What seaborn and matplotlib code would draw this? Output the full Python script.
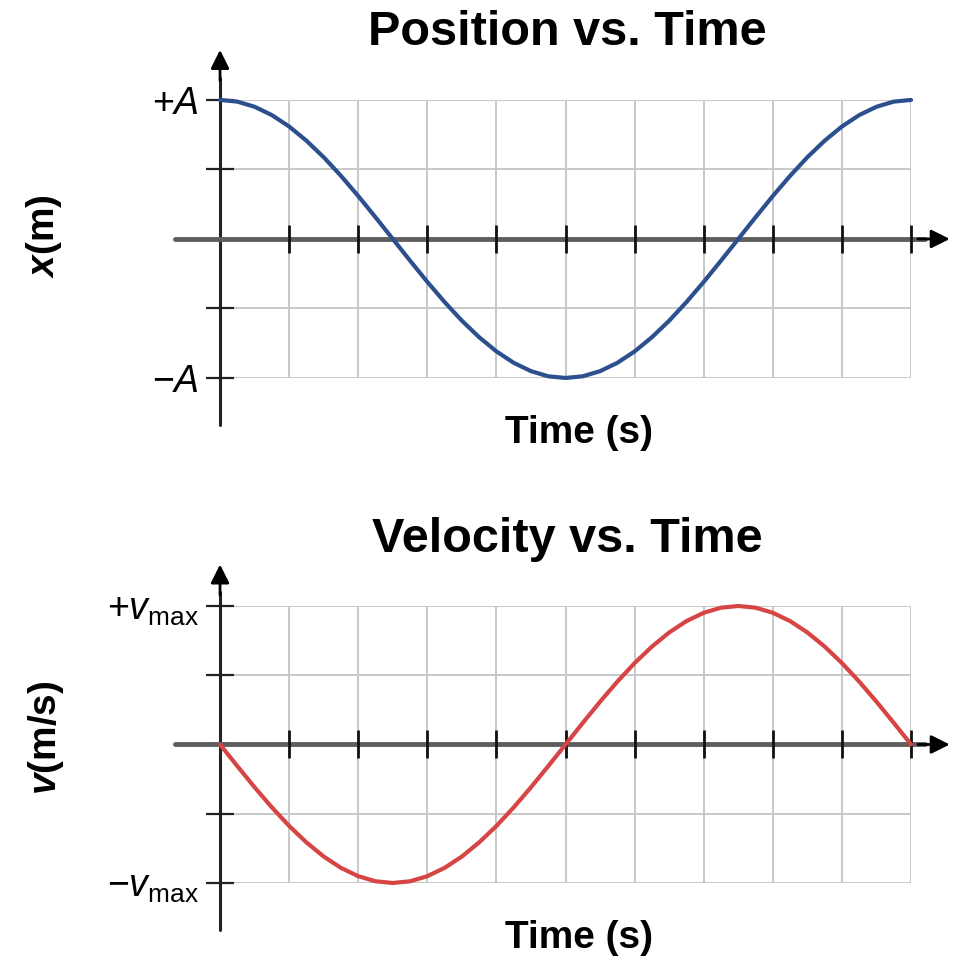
import matplotlib
matplotlib.use("Agg")
import matplotlib.pyplot as plt
import numpy as np
import pandas as pd
import seaborn as sns

# ── Datos (unidades de la cuadrícula) ─────────────────────────────────────────
tiempo = [0.0, 0.25, 0.5, 0.75, 1.0, 1.25, 1.5, 1.75, 2.0, 2.25,
          2.5, 2.75, 3.0, 3.25, 3.5, 3.75, 4.0, 4.25, 4.5, 4.75,
          5.0, 5.25, 5.5, 5.75, 6.0, 6.25, 6.5, 6.75, 7.0, 7.25,
          7.5, 7.75, 8.0, 8.25, 8.5, 8.75, 9.0, 9.25, 9.5, 9.75, 10.0]

posicion = [1.000, 0.988, 0.951, 0.891, 0.809, 0.707, 0.588, 0.454, 0.309, 0.156,
            0.000, -0.156, -0.309, -0.454, -0.588, -0.707, -0.809, -0.891, -0.951, -0.988,
            -1.000, -0.988, -0.951, -0.891, -0.809, -0.707, -0.588, -0.454, -0.309, -0.156,
            0.000, 0.156, 0.309, 0.454, 0.588, 0.707, 0.809, 0.891, 0.951, 0.988, 1.000]

velocidad = [0.000, -0.156, -0.309, -0.454, -0.588, -0.707, -0.809, -0.891, -0.951, -0.988,
             -1.000, -0.988, -0.951, -0.891, -0.809, -0.707, -0.588, -0.454, -0.309, -0.156,
             0.000, 0.156, 0.309, 0.454, 0.588, 0.707, 0.809, 0.891, 0.951, 0.988,
             1.000, 0.988, 0.951, 0.891, 0.809, 0.707, 0.588, 0.454, 0.309, 0.156, 0.000]

xticks = [0, 1, 2, 3, 4, 5, 6, 7, 8, 9, 10]
yticks = [-1, -0.5, 0, 0.5, 1]
etiquetas_pos = [r'$-A$', '', '', '', r'$+A$']
etiquetas_vel = [r'$-v_{\mathrm{max}}$', '', '', '', r'$+v_{\mathrm{max}}$']

df = pd.DataFrame({'tiempo': tiempo, 'posicion': posicion, 'velocidad': velocidad})

# ── Estilo ────────────────────────────────────────────────────────────────────
sns.set_style('white')
plt.rcParams['font.family'] = ['Liberation Sans', 'DejaVu Sans']
plt.rcParams['text.color'] = 'black'
plt.rcParams['ytick.color'] = '#222222'
plt.rcParams['ytick.labelcolor'] = 'black'
plt.rcParams['mathtext.fontset'] = 'custom'
plt.rcParams['mathtext.rm'] = 'Liberation Sans'
plt.rcParams['mathtext.it'] = 'Liberation Sans:italic'
plt.rcParams['mathtext.bf'] = 'Liberation Sans:bold'
plt.rcParams['mathtext.bfit'] = 'Liberation Sans:italic:bold'

fig = plt.figure(figsize=(9.6, 9.61), dpi=100)
ax1 = fig.add_axes([0.2292, 0.6067, 0.7198, 0.2893])
ax2 = fig.add_axes([0.2292, 0.0812, 0.7198, 0.2882])


def preparar_eje(ax, etiquetas, y_min, y_max):
    ax.set_xlim(0, 10)
    ax.set_ylim(-1, 1)
    ax.set_xticks(xticks)
    ax.set_yticks(yticks)
    ax.set_xticklabels([])
    ax.set_yticklabels(etiquetas, fontsize=27)
    ax.grid(True, color='#c8c8c8', lw=1.4)
    for s in ax.spines.values():
        s.set_visible(False)
    ax.tick_params(axis='x', length=0)
    ax.tick_params(axis='y', left=True, direction='inout', length=20,
                   width=1.6, color='#222222', pad=5)
    # eje vertical con flecha
    ax.plot([0, 0], [y_min, y_max - 0.2], color='#222222', lw=2.2,
            clip_on=False, zorder=4)
    ax.annotate('', xy=(0, y_max), xytext=(0, y_max - 0.22),
                arrowprops=dict(arrowstyle='-|>', color='black', lw=2,
                                mutation_scale=28, shrinkA=0, shrinkB=0),
                annotation_clip=False, zorder=5)
    # eje horizontal con flecha
    ax.plot([-0.65, 10.2], [0, 0], color='#5e5e5e', lw=3.5,
            clip_on=False, zorder=4)
    ax.annotate('', xy=(10.56, 0), xytext=(10.1, 0),
                arrowprops=dict(arrowstyle='-|>', color='black', lw=2,
                                mutation_scale=28, shrinkA=0, shrinkB=0),
                annotation_clip=False, zorder=5)
    ax.plot(xticks[1:], [0] * 10, ls='none', marker='|', ms=20, mew=2,
            color='#111111', clip_on=False, zorder=5)


preparar_eje(ax1, etiquetas_pos, -1.34, 1.36)
preparar_eje(ax2, etiquetas_vel, -1.34, 1.30)

sns.lineplot(data=df, x='tiempo', y='posicion', color='#2c4f8e', lw=3,
             ax=ax1, zorder=6, clip_on=False)
sns.lineplot(data=df, x='tiempo', y='velocidad', color='#d64444', lw=3,
             ax=ax2, zorder=6, clip_on=False)
for ax in (ax1, ax2):
    ax.set_xlabel('')
    ax.set_ylabel('')

# ── Textos ────────────────────────────────────────────────────────────────────
fig.text(0.5906, 1 - 45 / 961, 'Position vs. Time', ha='center', va='baseline',
         fontsize=35, fontweight='bold')
fig.text(0.6036, 1 - 443 / 961, 'Time (s)', ha='center', va='baseline',
         fontsize=28, fontweight='bold')
fig.text(0.5906, 1 - 552 / 961, 'Velocity vs. Time', ha='center', va='baseline',
         fontsize=35, fontweight='bold')
fig.text(0.6036, 1 - 948 / 961, 'Time (s)', ha='center', va='baseline',
         fontsize=28, fontweight='bold')
fig.text(44 / 960, 1 - 236 / 961, r'$\mathbfit{x}$(m)', rotation=90,
         ha='center', va='center', fontsize=28, fontweight='bold')
fig.text(46 / 960, 1 - 738 / 961, r'$\mathbfit{v}$(m/s)', rotation=90,
         ha='center', va='center', fontsize=28, fontweight='bold')

fig.savefig('out.png', dpi=100, facecolor='white')
